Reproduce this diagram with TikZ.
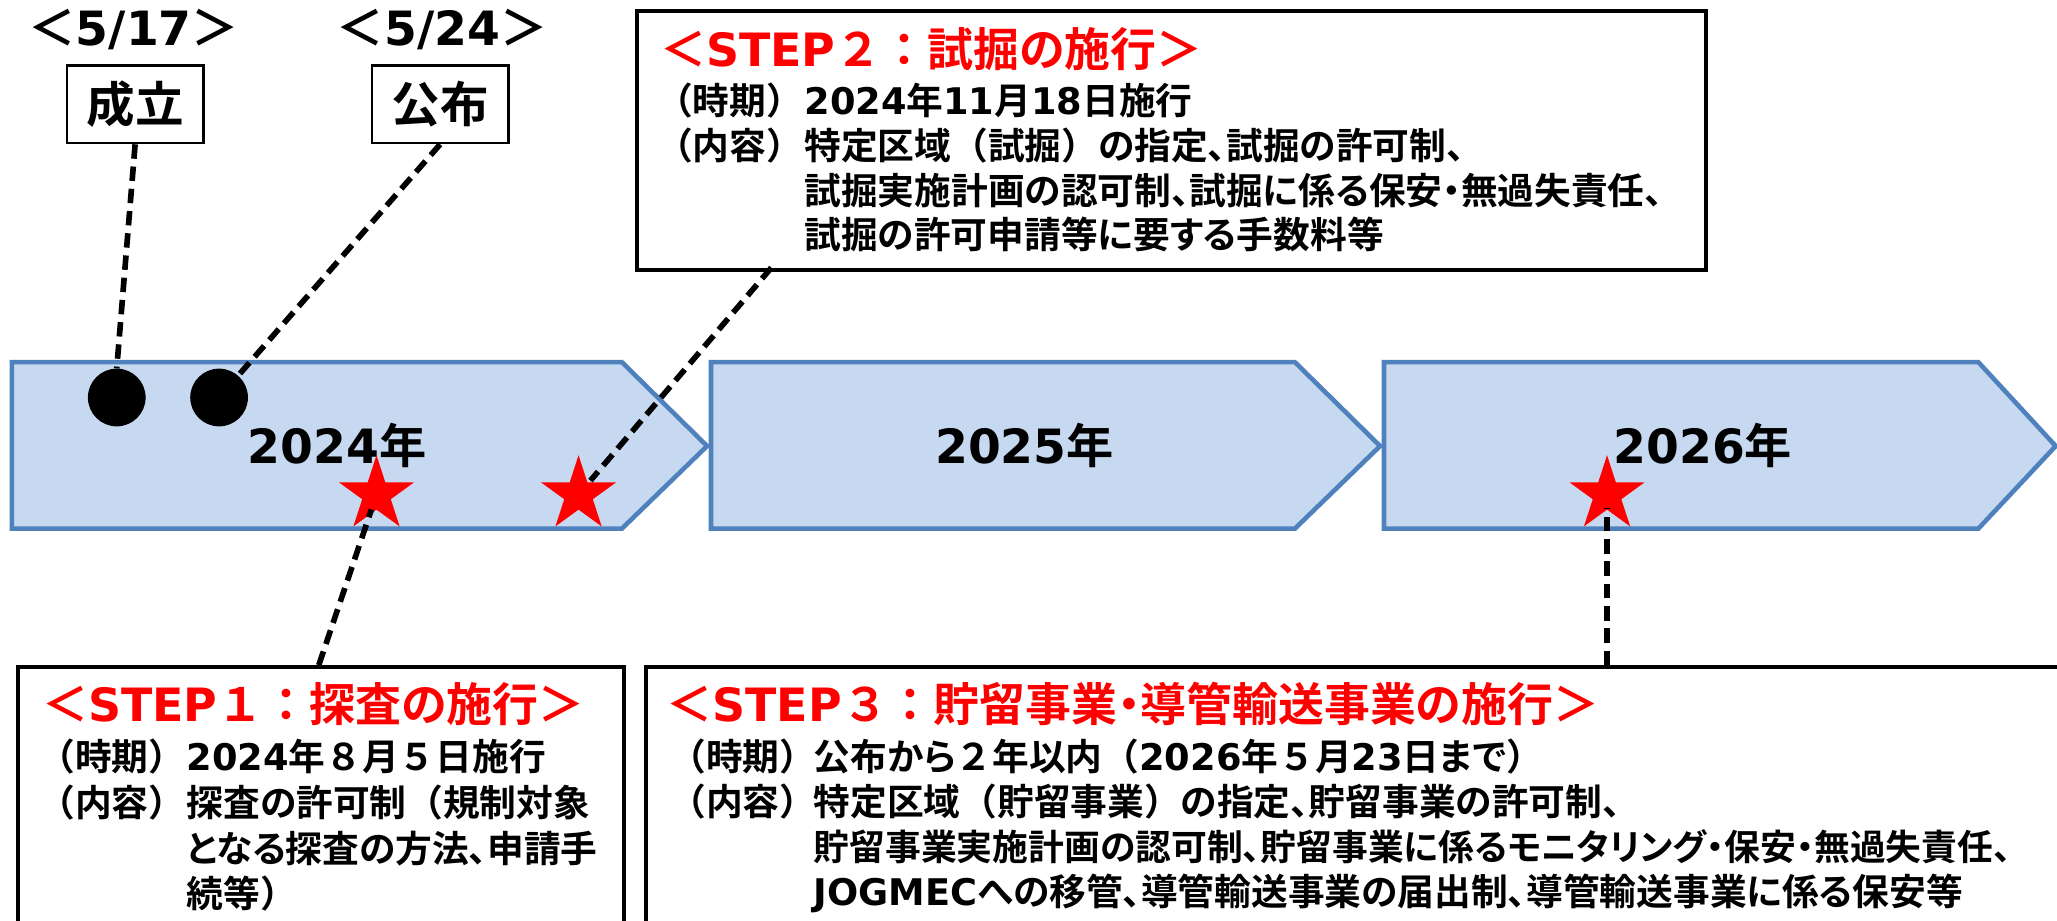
\documentclass[tikz,border=0pt]{standalone}
\usepackage{fontspec}
\setmainfont{Noto Sans CJK JP}[UprightFont=* Bold, RawFeature=+palt]
\newfontfamily\fwfont{Noto Sans CJK JP}[UprightFont=* Bold]
\newfontfamily\latfont{DejaVu Sans}[UprightFont=* Bold]
\newcommand{\fwc}[1]{{\fwfont #1}}
\newcommand{\latc}[1]{{\latfont #1}}
\usetikzlibrary{shapes.geometric}
\definecolor{barfill}{HTML}{C6D9F1}
\definecolor{barline}{HTML}{4F81BD}
\definecolor{tred}{HTML}{FF0000}
\begin{document}
\begin{tikzpicture}[x=1pt,y=-1pt,
  bar/.style={fill=barfill,draw=barline,line width=3.5pt,line join=miter},
  yeartext/.style={font=\fontsize{36}{40}\selectfont, anchor=base, inner sep=0},
  datetext/.style={font=\fontsize{36}{40}\selectfont, anchor=base, inner sep=0},
  smallbox/.style={draw, line width=2pt, minimum width=104pt, minimum height=59pt, inner sep=0, fill=white, font=\fontsize{37}{40}\selectfont},
  infobox/.style={draw, line width=3pt, fill=white, inner sep=0},
  blackdot/.style={circle, fill=black, minimum size=44pt, inner sep=0},
  redstar/.style={star, star points=5, star point ratio=2.618, minimum size=60pt, inner sep=0, fill=tred, draw=none},
  conn/.style={draw, line width=4.3pt, dash pattern=on 11pt off 6pt},
  ttl/.style={text=tred, anchor=base west, inner sep=0, font=\fontsize{35}{38}\selectfont},
  lbl/.style={anchor=base west, inner sep=0, font=\fontsize{28}{34}\selectfont},
]
\useasboundingbox (0,0) rectangle (1568,702);
\clip (0,0) rectangle (1568,702);

% year bars
\draw[bar] (9,276) -- (474,276) -- (539,340) -- (474,403) -- (9,403) -- cycle;
\draw[bar] (542,276) -- (987,276) -- (1052,340) -- (987,403) -- (542,403) -- cycle;
\draw[bar] (1055,276) -- (1508,276) -- (1567,340) -- (1508,403) -- (1055,403) -- cycle;
\node[yeartext] (y24) at (257,353.5) {\latc{2024}年};
\node[yeartext] (y25) at (781,353.5) {\latc{2025}年};
\node[yeartext] (y26) at (1298,353.5) {\latc{2026}年};

% dates
\node[datetext] (d1) at (102,35) {\fwc{＜}\latc{5/17}\fwc{＞}};
\node[datetext] (d2) at (337,35) {\fwc{＜}\latc{5/24}\fwc{＞}};
\node[smallbox] (b1) at (103,79.5) {成立};
\node[smallbox] (b2) at (335.5,79.5) {公布};
\node[blackdot] (c1) at (89,303) {};
\node[blackdot] (c2) at (167,303) {};

% stars
\node[redstar] (s1) at (287,377) {};
\node[redstar] (s2) at (441,377) {};
\node[redstar] (s3) at (1225,377) {};

% info boxes
\node[infobox, minimum width=815pt, minimum height=197pt, anchor=north west] (box2) at (484,7) {};
\node[infobox, minimum width=462pt, minimum height=230pt, anchor=north west] (box1) at (12,507) {};
\node[infobox, minimum width=1100pt, minimum height=230pt, anchor=north west] (box3) at (491,507) {};

% STEP 2 text
\node[ttl] (t2) at (503,51) {\fwc{＜}\latc{STEP}\fwc{２：}試掘の施行\fwc{＞}};
\node[lbl] (t2a) at (500,87.6) {\fwc{（時期）}};
\node[lbl] (t2b) at (613,87.6) {\latc{2024}年\latc{11}月\latc{18}日施行};
\node[lbl] (t2c) at (500,121.6) {\fwc{（内容）}};
\node[lbl] (t2d) at (613,121.6) {特定区域\fwc{（}試掘\fwc{）}の指定、試掘の許可制、};
\node[lbl] (t2e) at (613,155.6) {試掘実施計画の認可制、試掘に係る保安・無過失責任、};
\node[lbl] (t2f) at (613,189.6) {試掘の許可申請等に要する手数料等};

% STEP 1 text
\node[ttl] (t1) at (32,550) {\fwc{＜}\latc{STEP}\fwc{１：}探査の施行\fwc{＞}};
\node[lbl] (t1a) at (29,587.6) {\fwc{（時期）}};
\node[lbl] (t1b) at (142,587.6) {\latc{2024}年\fwc{８}月\fwc{５}日施行};
\node[lbl] (t1c) at (29,622.6) {\fwc{（内容）}};
\node[lbl] (t1d) at (142,622.6) {探査の許可制\fwc{（}規制対象};
\node[lbl] (t1e) at (142,657.6) {となる探査の方法、申請手};
\node[lbl] (t1f) at (142,691.6) {続等\fwc{）}};

% STEP 3 text
\node[ttl] (t3) at (508,550) {\fwc{＜}\latc{STEP}\fwc{３：}貯留事業・導管輸送事業の施行\fwc{＞}};
\node[lbl] (t3a) at (510,587.6) {\fwc{（時期）}};
\node[lbl] (t3b) at (620,587.6) {公布から\fwc{２}年以内\fwc{（}\latc{2026}年\fwc{５}月\latc{23}日まで\fwc{）}};
\node[lbl] (t3c) at (510,621.6) {\fwc{（内容）}};
\node[lbl] (t3d) at (620,621.6) {特定区域\fwc{（}貯留事業\fwc{）}の指定、貯留事業の許可制、};
\node[lbl, font=\fontsize{27.3}{34}\selectfont] (t3e) at (620,655.6) {貯留事業実施計画の認可制、貯留事業に係るモニタリング・保安・無過失責任、};
\node[lbl] (t3f) at (620,690.6) {\latc{JOGMEC}への移管、導管輸送事業の届出制、導管輸送事業に係る保安等};

% connectors
\coordinate (p1) at (243,507);
\coordinate (p2) at (588,204);
\coordinate (p3) at (1225,507);
\draw[conn] (b1.south) -- (c1.north);
\draw[conn] (b2.south) -- (c2);
\draw[conn, shorten >=12pt] (p1) -- (s1.center);
\draw[conn, shorten >=14pt] (p2) -- (s2.center);
\draw[conn, shorten >=10pt] (p3) -- (s3.center);
\end{tikzpicture}
\end{document}
